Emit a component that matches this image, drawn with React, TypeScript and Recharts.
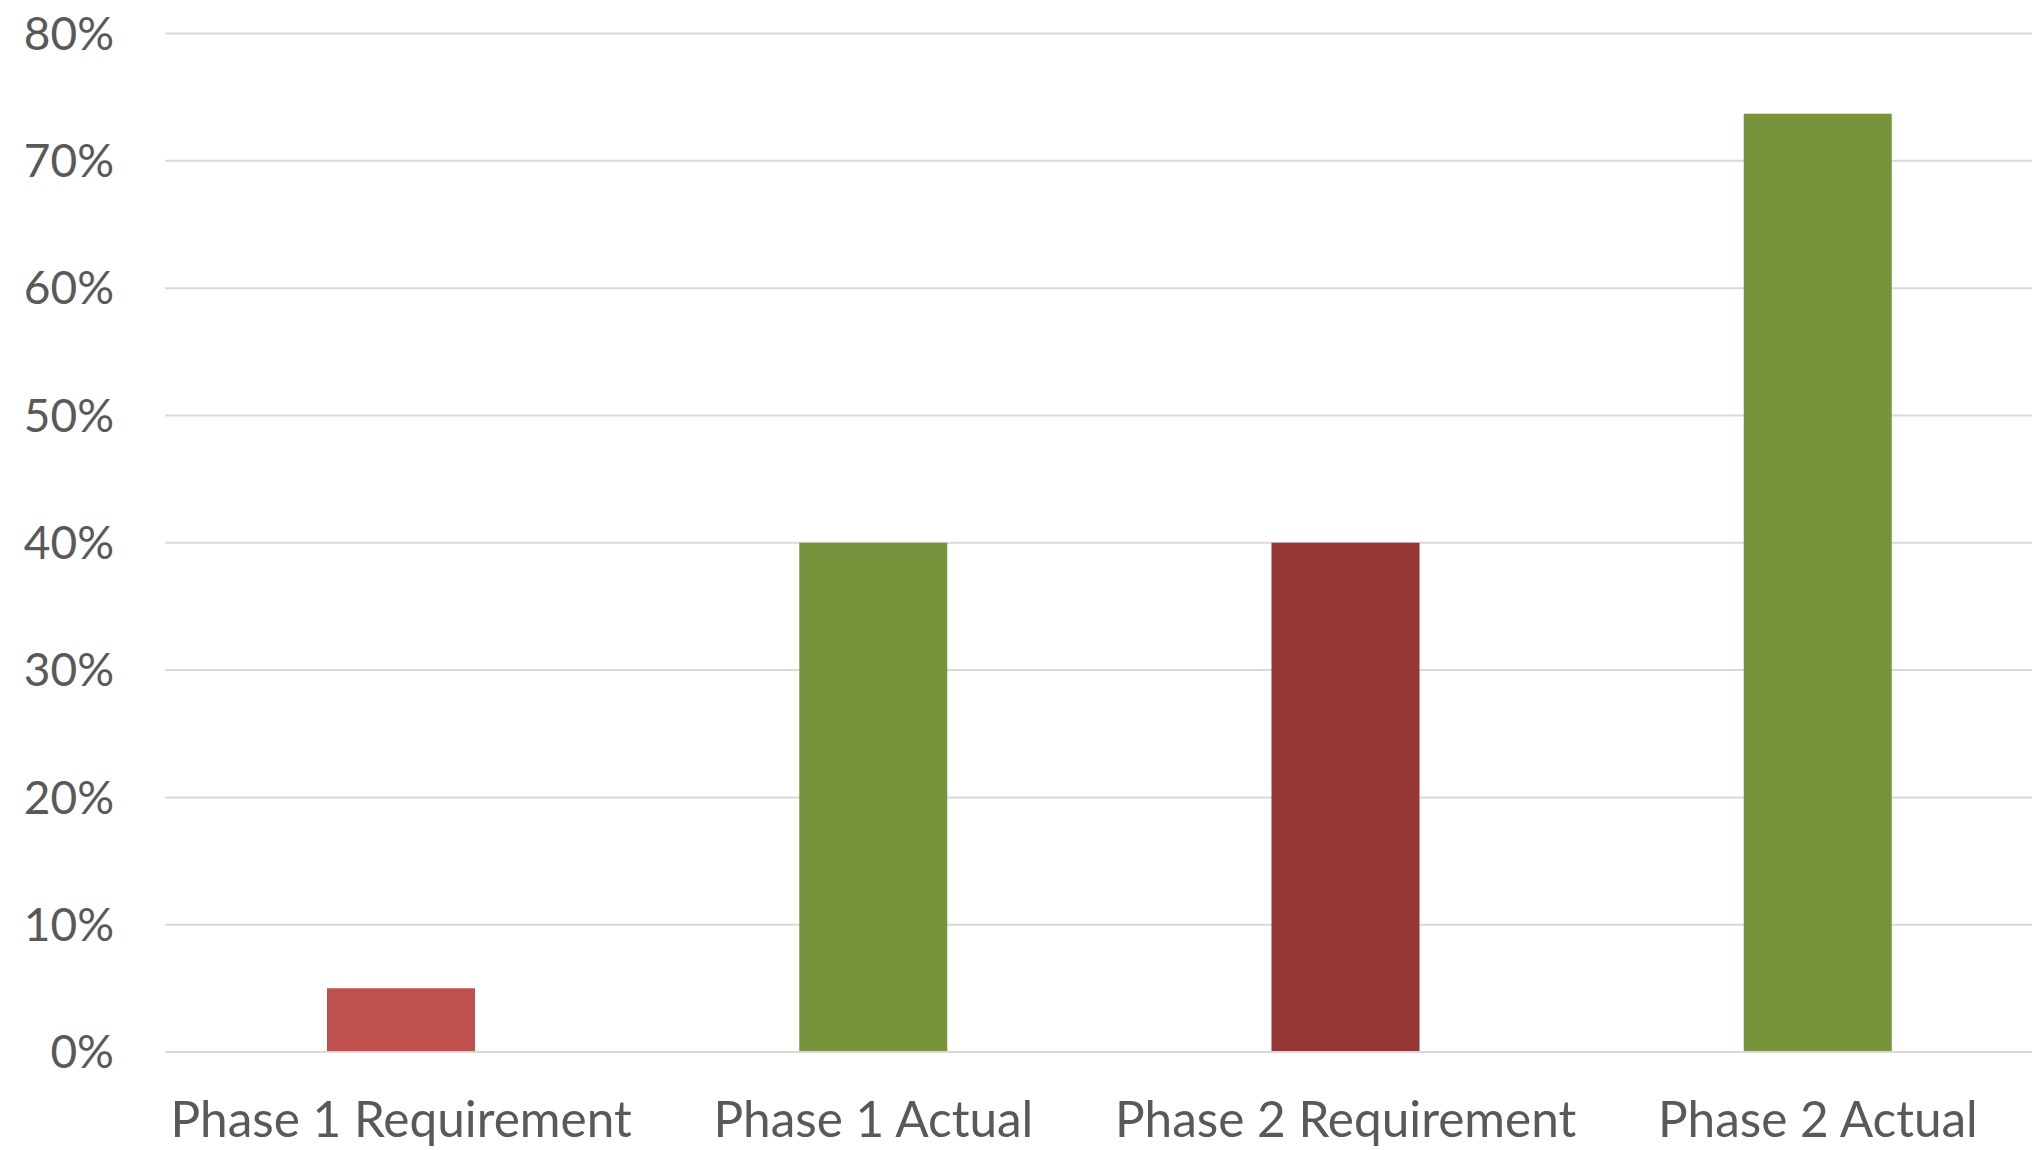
import React from "react";
import { BarChart, Bar, XAxis, YAxis, CartesianGrid, Cell } from "recharts";

const categories = ["Phase 1 Requirement", "Phase 1 Actual", "Phase 2 Requirement", "Phase 2 Actual"];
const values = [0.05, 0.40, 0.40, 0.737];
const yTicks = [0, 0.1, 0.2, 0.3, 0.4, 0.5, 0.6, 0.7, 0.8];
const barColors = ["#C0504D", "#77933C", "#953735", "#77933C"];

const data = categories.map((c, i) => ({ name: c, value: values[i] }));

const FONT = "Lato, 'Open Sans', sans-serif";

export default function App() {
  return (
    <div style={{ position: "absolute", left: 0, top: 0, width: 2032, height: 1150, overflow: "hidden", background: "#fff" }}>
      <BarChart width={2054} height={1150} data={data} margin={{ top: 33.5, right: 0, bottom: 0, left: 0 }}>
        <CartesianGrid vertical={false} stroke="#D9D9D9" strokeWidth={2} />
        <XAxis
          dataKey="name"
          height={98}
          axisLine={{ stroke: "#D9D9D9", strokeWidth: 2 }}
          tickLine={false}
          tickSize={0}
          tickMargin={50}
          tick={{ fill: "#595959", fontSize: 49.5, fontFamily: FONT }}
          interval={0}
        />
        <YAxis
          width={165}
          domain={[0, 0.8]}
          ticks={yTicks}
          axisLine={false}
          tickLine={false}
          tickSize={0}
          tickMargin={51}
          tickFormatter={(v: number) => `${Math.round(v * 100)}%`}
          tick={{ fill: "#595959", fontSize: 46, fontFamily: FONT }}
        />
        <Bar dataKey="value" barSize={148} isAnimationActive={false}>
          {data.map((d, i) => (
            <Cell key={d.name} fill={barColors[i]} />
          ))}
        </Bar>
      </BarChart>
    </div>
  );
}
